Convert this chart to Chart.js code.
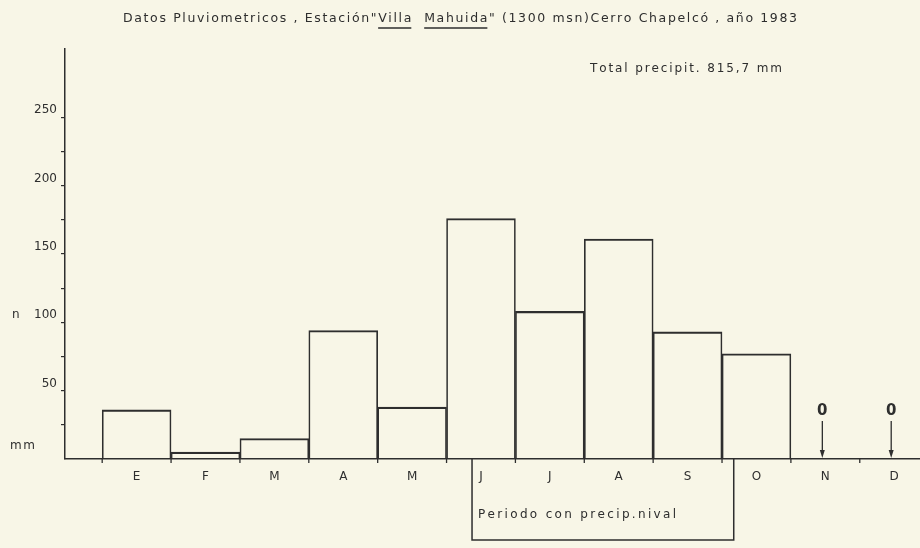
<!DOCTYPE html>
<html>
<head>
<meta charset="utf-8">
<script src="https://cdn.jsdelivr.net/npm/chart.js@4.4.1/dist/chart.umd.min.js"></script>
<style>
  html, body { margin: 0; padding: 0; background: #f8f6e7; }
  #wrap { width: 920px; height: 548px; }
</style>
</head>
<body>
<div id="wrap"><canvas id="rain" width="920" height="548"></canvas></div>
<script>
const MONTHS = ["E", "F", "M", "A", "M", "J", "J", "A", "S", "O", "N", "D"];
const RAIN_MM = [36, 5, 15, 94, 38, 176, 108, 161, 93, 77, 0, 0];
const Y_TICKS = [25, 50, 75, 100, 125, 150, 175, 200, 225, 250];
const Y_LABELED = [50, 100, 150, 200, 250];

const TITLE = "Datos Pluviometricos , Estación\"Villa  Mahuida\" (1300 msn)Cerro Chapelcó , año 1983";
const TOTAL = "Total precipit. 815,7 mm";
const NIVAL = "Periodo con precip.nival";

const INK = "#2e2e2e";
const FONT = "'DejaVu Sans', sans-serif";

// draws text char by char so it spans a given width (lettering look)
function spaced(ctx, text, x, y, width) {
  const chars = [...text];
  const raw = chars.reduce((s, c) => s + ctx.measureText(c).width, 0);
  const gap = chars.length > 1 ? (width - raw) / (chars.length - 1) : 0;
  const pos = [];
  let cx = x;
  for (const c of chars) {
    const w = ctx.measureText(c).width;
    ctx.fillText(c, cx, y);
    pos.push([cx, cx + w]);
    cx += w + gap;
  }
  return pos;
}

function line(ctx, x1, y1, x2, y2) {
  ctx.beginPath();
  ctx.moveTo(x1, y1);
  ctx.lineTo(x2, y2);
  ctx.stroke();
}

const annotations = {
  id: "annotations",
  afterDraw(chart) {
    const { ctx, scales: { x, y } } = chart;
    const base = y.getPixelForValue(0);
    ctx.save();
    ctx.strokeStyle = INK;
    ctx.fillStyle = INK;
    ctx.lineWidth = 1.3;

    // month boundary ticks
    for (let i = 0; i <= MONTHS.length; i++) {
      const px = x.getPixelForValue(i - 0.5);
      if (px > chart.width) continue;
      line(ctx, px, base - 1, px, base + 4);
    }

    // zero months: "0" with arrow down to the axis
    RAIN_MM.forEach((v, i) => {
      if (v !== 0) return;
      const px = x.getPixelForValue(i) - 3;
      ctx.font = `bold 15px ${FONT}`;
      ctx.textAlign = "center";
      ctx.textBaseline = "middle";
      ctx.fillText("0", px, base - 48);
      line(ctx, px, base - 38, px, base - 6);
      ctx.beginPath();
      ctx.moveTo(px - 2.5, base - 9);
      ctx.lineTo(px + 2.5, base - 9);
      ctx.lineTo(px, base - 1);
      ctx.closePath();
      ctx.fill();
    });

    // snow period box hanging under the axis
    const bx1 = x.getPixelForValue(4.87);
    const bx2 = x.getPixelForValue(8.67);
    ctx.lineWidth = 1.5;
    ctx.beginPath();
    ctx.moveTo(bx1, base);
    ctx.lineTo(bx1, base + 81);
    ctx.lineTo(bx2, base + 81);
    ctx.lineTo(bx2, base);
    ctx.stroke();

    ctx.textAlign = "left";
    ctx.textBaseline = "alphabetic";
    ctx.font = `12px ${FONT}`;
    spaced(ctx, NIVAL, bx1 + 6, base + 59, 198);

    // title with underlined station name
    ctx.font = `12.5px ${FONT}`;
    const pos = spaced(ctx, TITLE, 123, 22, 674);
    ctx.lineWidth = 1.6;
    for (const word of ["Villa", "Mahuida"]) {
      const i = TITLE.indexOf(word);
      line(ctx, pos[i][0], 28, pos[i + word.length - 1][1], 28);
    }

    ctx.font = `12px ${FONT}`;
    spaced(ctx, TOTAL, 590, 72, 192);

    // axis unit
    ctx.fillText("n", 12, y.getPixelForValue(100) - 4);
    spaced(ctx, "mm", 10, base - 10, 25);
    ctx.restore();
  }
};

new Chart(document.getElementById("rain"), {
  type: "bar",
  data: {
    datasets: [{
      data: MONTHS.map((m, i) => ({ x: i, y: RAIN_MM[i] })),
      backgroundColor: "rgba(0,0,0,0)",
      borderColor: INK,
      borderWidth: { top: 1.5, left: 1, right: 1, bottom: 0 },
      barPercentage: 1,
      categoryPercentage: 1,
    }],
  },
  options: {
    responsive: false,
    animation: false,
    layout: { padding: { top: 49, right: 1, bottom: 0, left: 0 } },
    plugins: {
      legend: { display: false },
      tooltip: { enabled: false },
    },
    scales: {
      x: {
        type: "linear",
        min: -1.04,
        max: 11.36,
        offset: false,
        grid: { display: false, drawTicks: false },
        border: { color: INK, width: 1.5 },
        afterBuildTicks: (s) => { s.ticks = MONTHS.map((_, i) => ({ value: i })); },
        afterFit: (s) => { s.height = 89; },
        ticks: {
          autoSkip: false,
          maxRotation: 0,
          padding: 11,
          color: INK,
          font: { family: FONT, size: 12 },
          callback: (v) => MONTHS[v] ?? "",
        },
      },
      y: {
        min: 0,
        max: 300,
        grid: { drawOnChartArea: false, tickLength: 4, color: INK, lineWidth: 1.2 },
        border: { color: INK, width: 1.5 },
        afterBuildTicks: (s) => { s.ticks = Y_TICKS.map((v) => ({ value: v })); },
        afterFit: (s) => { s.width = 65; },
        ticks: {
          padding: 4,
          labelOffset: -7,
          color: INK,
          font: { family: FONT, size: 12 },
          callback: (v) => (Y_LABELED.includes(v) ? String(v) : ""),
        },
      },
    },
  },
  plugins: [annotations],
});
</script>
</body>
</html>
